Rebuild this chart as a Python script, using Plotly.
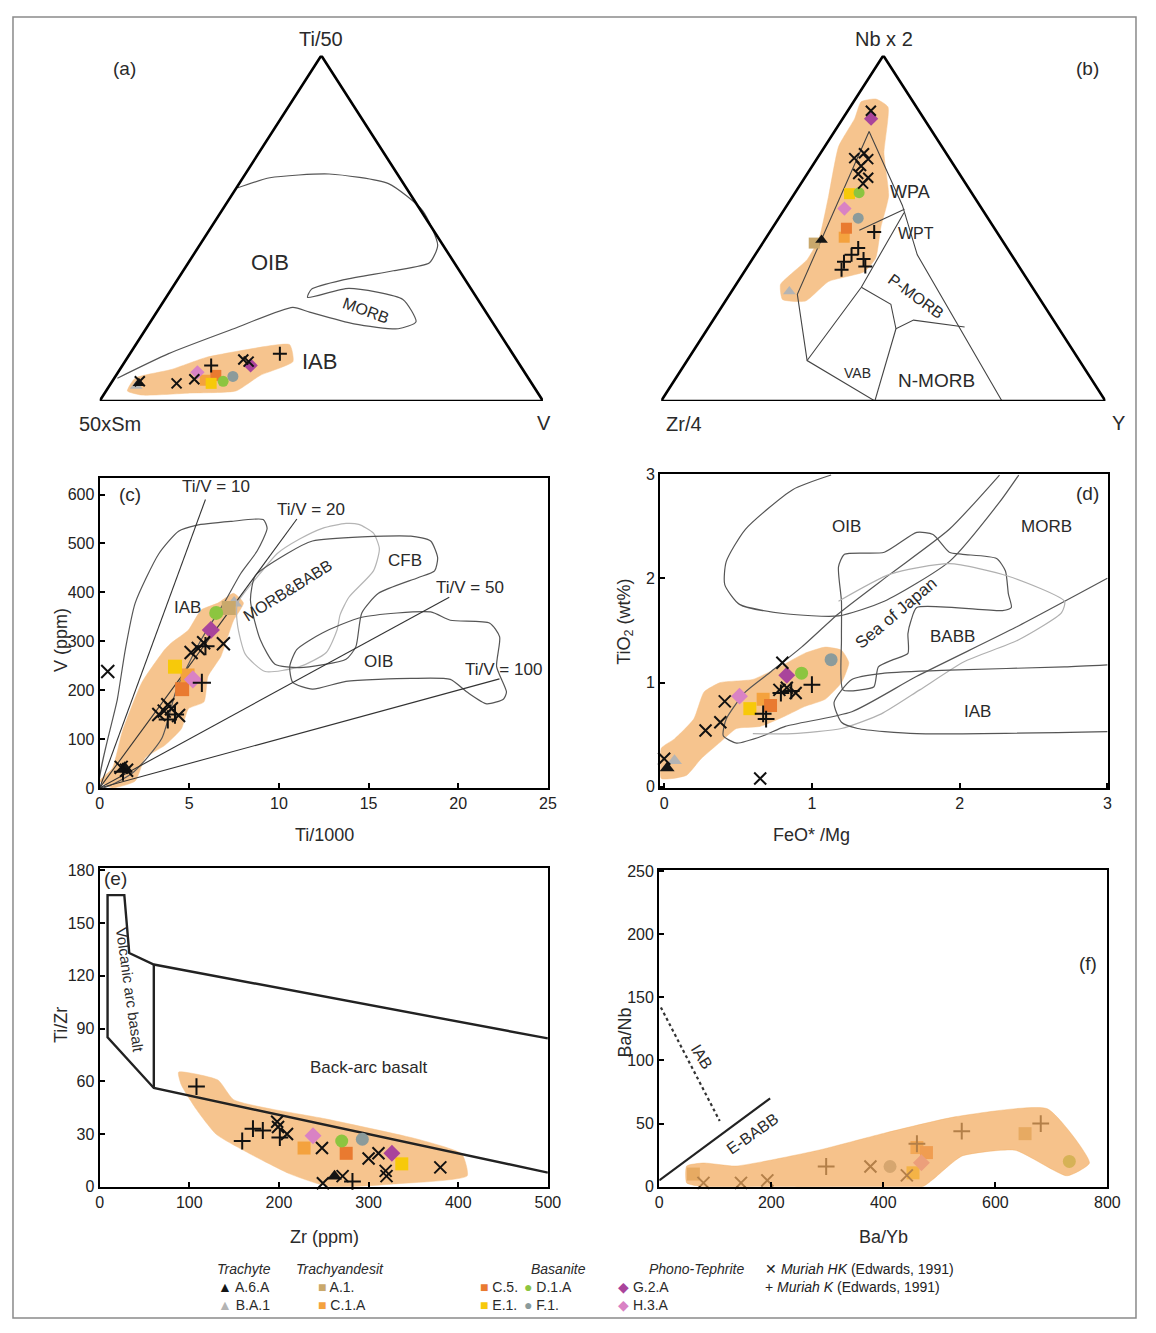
import plotly.graph_objects as go

# page is 1156 x 1333 ; the browser body keeps an 8px margin, so the figure itself is
# 1140 x 1317 and all positions below are given in page pixels (offset 8).
PAGE_W, PAGE_H = 1156, 1333
OFF = 8
W, H = PAGE_W - 2 * OFF, PAGE_H - 2 * OFF
FONT = "Liberation Sans"

# ======================= DATA =======================
# (a) Ti/50 - 50xSm - V ternary (percent of Ti/50 and V; 50xSm = 100 - Ti - V)
A_SAMPLE = ["A.6.A", "B.A.1", "HK", "HK", "HK", "H.3.A", "K", "C.1.A", "E.1.", "C.5.",
            "D.1.A", "F.1.", "HK", "HK", "G.2.A", "K"]
A_TI = [5.1, 4.3, 5.7, 5.1, 6.3, 8.3, 10.3, 6.0, 5.1, 7.4, 5.7, 7.1, 12.0, 11.4, 10.3, 13.7]
A_V = [6.3, 6.1, 6.2, 14.8, 18.2, 17.9, 20.0, 20.8, 22.6, 22.5, 25.0, 26.5, 26.4, 27.9, 28.9, 33.8]
A_FIELD_TI = [2.9, 6.6, 9.1, 12.6, 14.8, 16.3, 11.4, 7.4, 2.9, 2.3, 1.7]
A_FIELD_V = [4.8, 4.7, 11.6, 17.7, 25.5, 34.7, 37.9, 32.5, 29.3, 19.5, 8.7]
A_OIB_TI = [61.7, 64.6, 65.7, 62.9, 55.1, 45.1, 40.0, 37.7, 35.1, 32.3, 30.0, 32.6, 29.4, 22.9,
            20.9, 22.3, 25.7, 27.1, 20.9, 13.7, 6.6]
A_OIB_V = [0.3, 6.1, 18.9, 33.7, 45.3, 53.7, 54.4, 47.4, 37.6, 31.6, 31.9, 39.9, 53.7, 59.9,
           56.9, 46.2, 34.5, 30.0, 19.8, 8.7, 0.7]

# (b) Nb x2 - Zr/4 - Y ternary (percent of Nb x2 and Y; Zr/4 = 100 - Nb - Y)
B_SAMPLE = ["G.2.A", "HK", "HK", "HK", "HK", "HK", "HK", "HK", "HK", "E.1.", "D.1.A", "H.3.A",
            "F.1.", "C.5.", "C.1.A", "A.6.A", "A.1.", "K", "K", "K", "K", "K", "K", "K", "B.A.1"]
B_NB = [81.7, 84.0, 70.3, 71.7, 68.0, 70.0, 65.7, 64.6, 62.9, 60.0, 60.3, 55.7, 52.9, 50.0, 47.4,
        46.6, 45.7, 48.9, 44.3, 42.3, 40.3, 41.1, 38.0, 38.9, 31.7]
B_Y = [6.4, 5.2, 8.3, 9.8, 11.0, 11.6, 11.5, 14.3, 14.0, 12.4, 14.4, 13.4, 17.9, 16.7, 17.5,
       12.8, 11.6, 23.5, 22.2, 21.7, 21.0, 25.0, 21.6, 26.5, 13.0]
B_FIELD_NB = [86.6, 87.4, 85.1, 71.7, 59.4, 50.3, 41.4, 37.4, 34.6, 28.9, 29.4, 33.7, 37.1, 40.9,
              47.1, 59.4, 73.7, 81.7]
B_FIELD_Y = [1.7, 4.6, 8.5, 14.3, 21.5, 24.3, 27.6, 27.0, 20.4, 18.0, 12.6, 10.0, 11.0, 12.4,
             12.0, 8.0, 3.1, 2.7]
B_LINES_NB = [[78.0, 30.9, 11.7, 0.0], [78.0, 56.6, 42.3, 0.0], [11.7, 32.9, 54.5],
              [49.4, 55.5], [32.9, 28.0, 20.9, 23.4, 21.4], [20.9, 0.0]]
B_LINES_Y = [[7.8, 15.2, 27.0, 48.1], [7.8, 26.0, 36.5, 76.7], [27.0, 28.6, 27.4],
             [19.9, 27.0], [28.6, 37.7, 42.4, 45.1, 57.6], [42.4, 48.1]]

# (c) Ti/1000 vs V (ppm)
C_SAMPLE = ["B.A.1", "A.1.", "D.1.A", "G.2.A", "E.1.", "C.1.A", "H.3.A", "C.5.", "A.6.A",
            "HK", "HK", "HK", "HK", "HK", "HK", "HK", "HK", "HK", "HK", "HK", "HK",
            "K", "K", "K", "K", "K"]
C_TI = [7.5, 7.2, 6.5, 6.2, 4.2, 4.9, 5.2, 4.6, 1.4,
        0.45, 5.1, 5.5, 5.8, 6.9, 3.3, 3.6, 4.0, 4.4, 1.5, 1.2, 3.8,
        5.7, 5.9, 1.3, 4.2, 3.8]
C_V = [378, 368, 358, 323, 248, 230, 222, 202, 40,
       238, 277, 285, 297, 295, 150, 157, 162, 148, 36, 42, 170,
       215, 290, 33, 150, 140]
C_FIELD_X = [0, 0.71, 1.26, 2.36, 3.63, 4.01, 4.95, 5.66, 6.59, 7.47, 8.02, 7.47, 7.14, 6.76,
             6.04, 5.82, 4.95, 4.56, 3.63, 2.53, 1.98, 0.7]
C_FIELD_Y = [14, 40, 115, 216, 283, 297, 323, 364, 378, 398, 378, 343, 309, 269, 228, 176, 162,
             121, 87, 61, 14, 0]
C_IAB_X = [0, 0.99, 1.43, 1.98, 3.30, 4.40, 5.38, 7.31, 9.12, 9.34, 8.79, 7.86, 7.03, 5.66, 4.29,
           3.46, 1.81, 0]
C_IAB_Y = [0, 182, 283, 378, 479, 525, 537, 545, 549, 531, 485, 438, 384, 303, 202, 101, 30, 0]
C_MB_X = [7.69, 9.07, 9.89, 11.15, 12.42, 13.74, 14.45, 15.27, 15.6, 15.27, 13.9, 13.41, 13.24,
          12.64, 11.15, 9.23, 8.13, 7.69, 7.69]
C_MB_Y = [378, 444, 479, 509, 531, 541, 539, 521, 489, 444, 390, 354, 323, 277, 248, 238, 273,
          333, 378]
C_CFB_X = [8.68, 10.44, 11.87, 17.36, 18.46, 18.85, 18.68, 17.75, 15.55, 14.62, 14.29, 13.74,
           11.15, 9.78, 8.96, 8.41, 8.68]
C_CFB_Y = [434, 479, 505, 515, 505, 471, 444, 430, 398, 358, 289, 263, 246, 253, 303, 384, 434]
C_OIB_X = [10.6, 10.99, 12.42, 14.62, 18.46, 19.56, 21.76, 22.31, 22.14, 22.69, 22.53, 21.59,
           20.49, 19.56, 17.36, 13.74, 11.87, 10.77, 10.6]
C_OIB_Y = [248, 283, 317, 349, 360, 343, 337, 309, 248, 196, 182, 172, 196, 222, 224, 218, 202,
           216, 248]
C_TIV_RATIO = [10, 20, 50, 100]
C_TIV_XEND = [5.9, 11.0, 19.5, 22.3]

# (d) FeO*/Mg vs TiO2 (wt%)
D_SAMPLE = ["A.6.A", "B.A.1", "H.3.A", "E.1.", "C.1.A", "C.5.", "G.2.A", "D.1.A", "F.1.",
            "HK", "HK", "HK", "HK", "HK", "HK", "HK", "HK", "HK",
            "K", "K", "K", "K", "K"]
D_X = [0.02, 0.07, 0.51, 0.58, 0.67, 0.72, 0.83, 0.93, 1.13,
       0.0, 0.28, 0.38, 0.41, 0.78, 0.8, 0.89, 0.65, 0.83,
       0.69, 0.67, 0.79, 1.0, 0.86]
D_Y = [0.18, 0.25, 0.87, 0.75, 0.84, 0.78, 1.07, 1.09, 1.22,
       0.27, 0.54, 0.62, 0.82, 0.93, 1.19, 0.9, 0.08, 0.95,
       0.65, 0.7, 0.9, 0.98, 0.92]
D_FIELD_X = [-0.02, 0.15, 0.25, 0.38, 0.49, 0.65, 0.82, 0.95, 1.09, 1.2, 1.25, 1.2, 1.09, 0.95,
             0.78, 0.6, 0.38, 0.27, 0.2, 0.07, -0.02]
D_FIELD_Y = [0.08, 0.11, 0.27, 0.43, 0.56, 0.58, 0.68, 0.77, 0.84, 1.0, 1.19, 1.31, 1.34, 1.28,
             1.15, 1.03, 1.0, 0.91, 0.65, 0.46, 0.37]
D_OIB_X = [1.13, 0.87, 0.55, 0.42, 0.41, 0.51, 0.82, 1.18, 1.49, 1.93, 2.27, 2.40]
D_OIB_Y = [2.99, 2.85, 2.47, 2.16, 1.94, 1.75, 1.66, 1.64, 1.78, 2.16, 2.73, 2.99]
D_MORB_X = [2.27, 1.93, 1.53, 1.18, 0.93, 0.71, 0.55, 0.42, 0.40, 0.49, 0.67, 0.82, 1.27, 1.71,
            2.38, 3.0]
D_MORB_Y = [2.99, 2.47, 2.04, 1.66, 1.34, 1.09, 0.91, 0.65, 0.49, 0.42, 0.49, 0.58, 0.72, 1.06,
            1.53, 2.0]
D_SOJ_X = [1.18, 1.22, 1.49, 1.71, 1.82, 1.93, 2.02, 2.25, 2.31, 2.33, 2.35, 2.29, 1.71, 1.67,
           1.65, 1.65, 1.55, 1.45, 1.42, 1.33, 1.21, 1.2, 1.2, 1.18]
D_SOJ_Y = [2.11, 2.23, 2.25, 2.44, 2.42, 2.25, 2.23, 2.19, 2.07, 1.85, 1.72, 1.69, 1.72, 1.59,
           1.47, 1.28, 1.22, 1.15, 0.96, 0.93, 0.93, 1.41, 1.78, 2.11]
D_BABB_X = [1.18, 1.53, 1.93, 2.33, 2.71, 2.69, 2.4, 2.03, 1.73, 1.47, 1.2, 0.87, 0.6]
D_BABB_Y = [1.78, 2.04, 2.14, 2.02, 1.78, 1.67, 1.41, 1.2, 0.93, 0.7, 0.56, 0.51, 0.51]
D_IAB_X = [3.0, 2.71, 1.93, 1.49, 1.27, 1.15, 1.2, 1.31, 1.71, 3.0]
D_IAB_Y = [1.17, 1.15, 1.12, 1.09, 1.03, 0.81, 0.62, 0.56, 0.51, 0.53]

# (e) Zr (ppm) vs Ti/Zr
E_SAMPLE = ["H.3.A", "C.1.A", "D.1.A", "C.5.", "F.1.", "G.2.A", "E.1.", "A.6.A",
            "K", "K", "K", "K", "K", "K",
            "HK", "HK", "HK", "HK", "HK", "HK", "HK", "HK", "HK", "HK", "HK"]
E_ZR = [238, 228, 270, 275, 293, 326, 337, 262,
        108, 159, 171, 182, 201, 282,
        199, 209, 198, 248, 300, 311, 319, 320, 380, 249, 271]
E_TIZR = [29, 22, 26, 19, 27, 19, 13, 6,
          57, 26, 33, 32, 28, 3,
          34, 30, 37, 22, 16, 19, 9, 6, 11, 2, 6]
E_FIELD_X = [88, 132, 149.5, 256, 355, 404, 410, 333, 256, 212, 168, 130, 108, 91]
E_FIELD_Y = [65.2, 60.7, 49.5, 38.2, 27, 18.6, 6.2, 1.7, 0, 7.3, 18.6, 29.8, 43.9, 58]
E_BOUND_X = [500, 60.4, 33, 27.5, 8.8, 8.8, 60.4, 500]
E_BOUND_Y = [84.4, 126.5, 133, 166, 166, 85, 56.2, 8]
E_DIV_X = [60.4, 60.4]
E_DIV_Y = [126.5, 56.2]

# (f) Ba/Yb vs Ba/Nb
F_SAMPLE = ["HK", "HK", "HK", "HK", "HK", "K", "K", "K", "K",
            "F.1.", "E.1.", "H.3.A", "C.5.", "C.1.A", "A.1.", "D.1.A", "A.1."]
F_BAYB = [79, 146, 193, 377, 442, 298, 460, 540, 681, 412, 453, 468, 477, 460, 653, 732, 61]
F_BANB = [3, 3, 5, 16, 9, 16, 34, 44, 50, 16, 11, 19, 27, 31, 42, 20, 10]
F_FIELD_X = [49, 79, 137, 284, 400, 530, 693, 768, 728, 635, 540, 488, 470, 225, 79, 49]
F_FIELD_Y = [16.4, 18.8, 16.4, 28.9, 42.2, 55.5, 61.7, 18.8, 8.6, 28.9, 24.2, 5.5, 0, 0, 0, 3]
F_IAB_X = [3, 108]
F_IAB_Y = [142, 52]
F_EBABB_X = [0, 198]
F_EBABB_Y = [5, 70]

# ======================= STYLE =======================
FIELD_FILL = "#F6C48E"
STYLE = {
    "A.6.A": ("triangle-up", "#151515"),
    "B.A.1": ("triangle-up", "#b4b4b4"),
    "A.1.": ("square", "#c9a86c"),
    "C.1.A": ("square", "#f4a23e"),
    "C.5.": ("square", "#e97a30"),
    "E.1.": ("square", "#f7c90a"),
    "D.1.A": ("circle", "#8cc540"),
    "F.1.": ("circle", "#8b9b9b"),
    "G.2.A": ("diamond", "#a9449b"),
    "H.3.A": ("diamond", "#d982c4"),
    "HK": ("x-thin", "#111111"),
    "K": ("cross-thin", "#111111"),
}
ORDER = ["B.A.1", "A.1.", "C.1.A", "C.5.", "E.1.", "D.1.A", "F.1.", "G.2.A", "H.3.A", "A.6.A",
         "HK", "K"]


def px2x(px):
    return (px - OFF) / W


def px2y(py):
    return 1 - (py - OFF) / H


def dom_x(p0, p1):
    return [px2x(p0), px2x(p1)]


def dom_y(ptop, pbot):
    return [px2y(pbot), px2y(ptop)]


def tern(top, right):
    xs = [(r + t / 2.0) / 100.0 for t, r in zip(top, right)]
    ys = [t / 100.0 for t in top]
    return xs, ys


fig = go.Figure()


def line(xs, ys, ax, color="#555555", width=1.2, fill=None, fillcolor=None):
    if fill is None:
        ln = dict(color=color, width=width, shape="spline", smoothing=0.6)
    else:
        ln = dict(color=fillcolor, width=0.5, shape="spline", smoothing=0.5)
    fig.add_trace(go.Scatter(x=xs, y=ys, mode="lines", xaxis="x" + ax, yaxis="y" + ax,
                             line=ln, fill=fill, fillcolor=fillcolor, hoverinfo="skip",
                             showlegend=False))


def straight(xs, ys, ax, color="black", width=2.5, dash="solid"):
    fig.add_trace(go.Scatter(x=xs, y=ys, mode="lines", xaxis="x" + ax, yaxis="y" + ax,
                             line=dict(color=color, width=width, dash=dash),
                             hoverinfo="skip", showlegend=False))


def points(samples, xs, ys, ax, size):
    for name in ORDER:
        idx = [i for i, s in enumerate(samples) if s == name]
        if not idx:
            continue
        sym, col = STYLE[name]
        if name in ("HK", "K"):
            mk = dict(symbol=sym, size=size - 1, color=col, line=dict(color=col, width=2))
        else:
            mk = dict(symbol=sym, size=size, color=col, line=dict(width=0))
        fig.add_trace(go.Scatter(x=[xs[i] for i in idx], y=[ys[i] for i in idx], mode="markers",
                                 marker=mk, xaxis="x" + ax, yaxis="y" + ax, cliponaxis=False,
                                 hoverinfo="skip", showlegend=False, name=name))


# ---------- (a)
ax = ""
fx, fy = tern(A_FIELD_TI, A_FIELD_V)
line(fx + fx[:1], fy + fy[:1], ax, fill="toself", fillcolor=FIELD_FILL)
ox, oy = tern(A_OIB_TI, A_OIB_V)
line(ox, oy, ax)
straight([0, 0.5, 1, 0], [0, 1, 0, 0], ax, width=2.6)
px_, py_ = tern(A_TI, A_V)
points(A_SAMPLE, px_, py_, ax, 11)

# ---------- (b)
ax = "2"
fx, fy = tern(B_FIELD_NB, B_FIELD_Y)
line(fx + fx[:1], fy + fy[:1], ax, fill="toself", fillcolor=FIELD_FILL)
for lnb, ly in zip(B_LINES_NB, B_LINES_Y):
    lx, lyy = tern(lnb, ly)
    straight(lx, lyy, ax, color="#444444", width=1.1)
straight([0, 0.5, 1, 0], [0, 1, 0, 0], ax, width=2.6)
px_, py_ = tern(B_NB, B_Y)
points(B_SAMPLE, px_, py_, ax, 11)

# ---------- (c)
ax = "3"
line(C_FIELD_X + C_FIELD_X[:1], C_FIELD_Y + C_FIELD_Y[:1], ax, fill="toself",
     fillcolor=FIELD_FILL)
line(C_IAB_X, C_IAB_Y, ax)
line(C_MB_X, C_MB_Y, ax, color="#b5b5b5")
line(C_CFB_X, C_CFB_Y, ax)
line(C_OIB_X, C_OIB_Y, ax)
for r, xe in zip(C_TIV_RATIO, C_TIV_XEND):
    straight([0, xe], [0, xe * 1000.0 / r], ax, color="#333333", width=1.1)
points(C_SAMPLE, C_TI, C_V, ax, 14)

# ---------- (d)
ax = "4"
line(D_FIELD_X + D_FIELD_X[:1], D_FIELD_Y + D_FIELD_Y[:1], ax, fill="toself",
     fillcolor=FIELD_FILL)
line(D_OIB_X, D_OIB_Y, ax)
line(D_MORB_X, D_MORB_Y, ax)
line(D_SOJ_X, D_SOJ_Y, ax)
line(D_BABB_X, D_BABB_Y, ax, color="#b0b0b0")
line(D_IAB_X, D_IAB_Y, ax)
points(D_SAMPLE, D_X, D_Y, ax, 13)

# ---------- (e)
ax = "5"
line(E_FIELD_X + E_FIELD_X[:1], E_FIELD_Y + E_FIELD_Y[:1], ax, fill="toself",
     fillcolor=FIELD_FILL)
straight(E_BOUND_X, E_BOUND_Y, ax, color="#222222", width=2.4)
straight(E_DIV_X, E_DIV_Y, ax, color="#222222", width=2.4)
points(E_SAMPLE, E_ZR, E_TIZR, ax, 13)

# ---------- (f)
ax = "6"
points(F_SAMPLE, F_BAYB, F_BANB, ax, 13)
line(F_FIELD_X + F_FIELD_X[:1], F_FIELD_Y + F_FIELD_Y[:1], ax, fill="toself",
     fillcolor="rgba(242,171,94,0.72)")
straight(F_IAB_X, F_IAB_Y, ax, color="#333333", width=2.2, dash="dot")
straight(F_EBABB_X, F_EBABB_Y, ax, color="#222222", width=2.2)

# ======================= AXES =======================
hidden = dict(visible=False, range=[0, 1], fixedrange=True)
fig.update_layout(
    xaxis=dict(hidden, domain=dom_x(97, 547), anchor="y"),
    yaxis=dict(hidden, domain=dom_y(48, 398), anchor="x"),
    xaxis2=dict(hidden, domain=dom_x(667, 1118), anchor="y2"),
    yaxis2=dict(hidden, domain=dom_y(48, 398), anchor="x2"),
)

tickfont = dict(family=FONT, size=16, color="#222222")


def cart(rx, ry, dxp, dyp, dtx, dty):
    common = dict(showgrid=False, zeroline=False, showline=True, linecolor="black",
                  linewidth=2.2, mirror=True, ticks="inside", ticklen=5, tickwidth=1.5,
                  tickcolor="black", tickfont=tickfont, fixedrange=True)
    return (dict(common, range=rx, domain=dom_x(*dxp), dtick=dtx, tick0=0),
            dict(common, range=ry, domain=dom_y(*dyp), dtick=dty, tick0=0))


for n, (rx, ry, dxp, dyp, dtx, dty) in {
    "3": ([0, 25], [0, 634], (97, 552), (476, 790), 5, 100),
    "4": ([-0.027, 3.007], [-0.01, 3.0], (666, 1121), (472, 790), 1, 1),
    "5": ([0, 500], [0, 181.5], (97, 552), (871, 1194), 100, 30),
    "6": ([0, 800], [0, 251], (665, 1120), (873, 1194), 200, 50),
}.items():
    xa, ya = cart(rx, ry, dxp, dyp, dtx, dty)
    xa["anchor"] = "y" + n
    ya["anchor"] = "x" + n
    fig.layout["xaxis" + n] = xa
    fig.layout["yaxis" + n] = ya

# ======================= TEXT =======================
annots = []


def txt(px, py, s, size=17, angle=0, color="#2a2a2a", xanchor="center", italic=False):
    annots.append(dict(x=px2x(px), y=px2y(py), xref="paper", yref="paper", text=s,
                       showarrow=False, textangle=angle, xanchor=xanchor, yanchor="middle",
                       borderpad=0,
                       font=dict(family=FONT, size=size, color=color,
                                 style="italic" if italic else "normal")))


# (a)
txt(322, 31, "Ti/50", 20)
txt(107, 421, "50xSm", 20)
txt(548, 420, "V", 20)
txt(122, 61, "(a)", 19)
txt(270, 258, "OIB", 22)
txt(367, 306, "MORB", 16, angle=20)
txt(320, 358, "IAB", 22)
# (b)
txt(893, 31, "Nb x 2", 20)
txt(690, 421, "Zr/4", 20)
txt(1131, 420, "Y", 20)
txt(1100, 61, "(b)", 19)
txt(920, 186, "WPA", 18)
txt(926, 228, "WPT", 16)
txt(926, 292, "P-MORB", 16, angle=36)
txt(866, 370, "VAB", 14)
txt(947, 377, "N-MORB", 19)
# (c)
txt(128, 493, "(c)", 19)
txt(215, 485, "Ti/V = 10", 17)
txt(312, 508, "Ti/V = 20", 17)
txt(186, 607, "IAB", 17)
txt(288, 590, "MORB&BABB", 16, angle=-32)
txt(407, 560, "CFB", 17)
txt(473, 587, "Ti/V = 50", 17)
txt(380, 662, "OIB", 17)
txt(507, 670, "Ti/V = 100", 17)
txt(325, 838, "Ti/1000", 18)
txt(58, 640, "V (ppm)", 18, angle=-90)
# (d)
txt(1100, 492, "(d)", 19)
txt(855, 525, "OIB", 17)
txt(1058, 525, "MORB", 17)
txt(905, 613, "Sea of Japan", 17, angle=-40)
txt(963, 637, "BABB", 17)
txt(988, 713, "IAB", 17)
txt(820, 838, "FeO* /Mg", 18)
txt(630, 622, "TiO<sub>2</sub> (wt%)", 18, angle=-90)
# (e)
txt(113, 882, "(e)", 19)
txt(128, 995, "Volcanic arc basalt", 15, angle=82)
txt(370, 1073, "Back-arc basalt", 17)
txt(325, 1245, "Zr (ppm)", 18)
txt(58, 1030, "Ti/Zr", 18, angle=-90)
# (f)
txt(1100, 968, "(f)", 19)
txt(708, 1062, "IAB", 16, angle=58)
txt(760, 1140, "E-BABB", 16, angle=-35)
txt(893, 1245, "Ba/Yb", 18)
txt(630, 1038, "Ba/Nb", 18, angle=-90)

# ======================= LEGEND (bottom) =======================
LEG = 14
txt(244, 1277, "Trachyte", LEG, italic=True)
txt(341, 1277, "Trachyandesit", LEG, italic=True)
txt(563, 1277, "Basanite", LEG, italic=True)
txt(703, 1277, "Phono-Tephrite", LEG, italic=True)
legend_items = [
    (216, 1296, "▲", "#151515", "A.6.A"), (216, 1314, "▲", "#b4b4b4", "B.A.1"),
    (318, 1296, "■", "#c9a86c", "A.1."), (318, 1314, "■", "#f4a23e", "C.1.A"),
    (482, 1296, "■", "#e97a30", "C.5."), (482, 1314, "■", "#f7c90a", "E.1."),
    (527, 1296, "●", "#8cc540", "D.1.A"), (527, 1314, "●", "#8b9b9b", "F.1."),
    (622, 1296, "◆", "#a9449b", "G.2.A"), (622, 1314, "◆", "#d982c4", "H.3.A"),
]
for lx, ly, sym, col, lab in legend_items:
    txt(lx, ly, "<span style='color:%s'>%s</span> %s" % (col, sym, lab), LEG,
        xanchor="left")
txt(771, 1277, "✕ <i>Muriah HK</i> (Edwards, 1991)", LEG, xanchor="left", color="#222222")
txt(771, 1296, "+ <i>Muriah K</i> (Edwards, 1991)", LEG, xanchor="left", color="#222222")

fig.update_layout(
    width=W, height=H, autosize=False,
    margin=dict(l=0, r=0, t=0, b=0),
    paper_bgcolor="white", plot_bgcolor="rgba(0,0,0,0)",
    annotations=annots,
    shapes=[dict(type="rect", xref="paper", yref="paper", x0=px2x(9), x1=px2x(1149),
                 y0=px2y(1327), y1=px2y(9), line=dict(color="#8a8a8a", width=1.5))],
    showlegend=False,
)

fig.write_html("out.html", config={"displayModeBar": False, "responsive": False})
